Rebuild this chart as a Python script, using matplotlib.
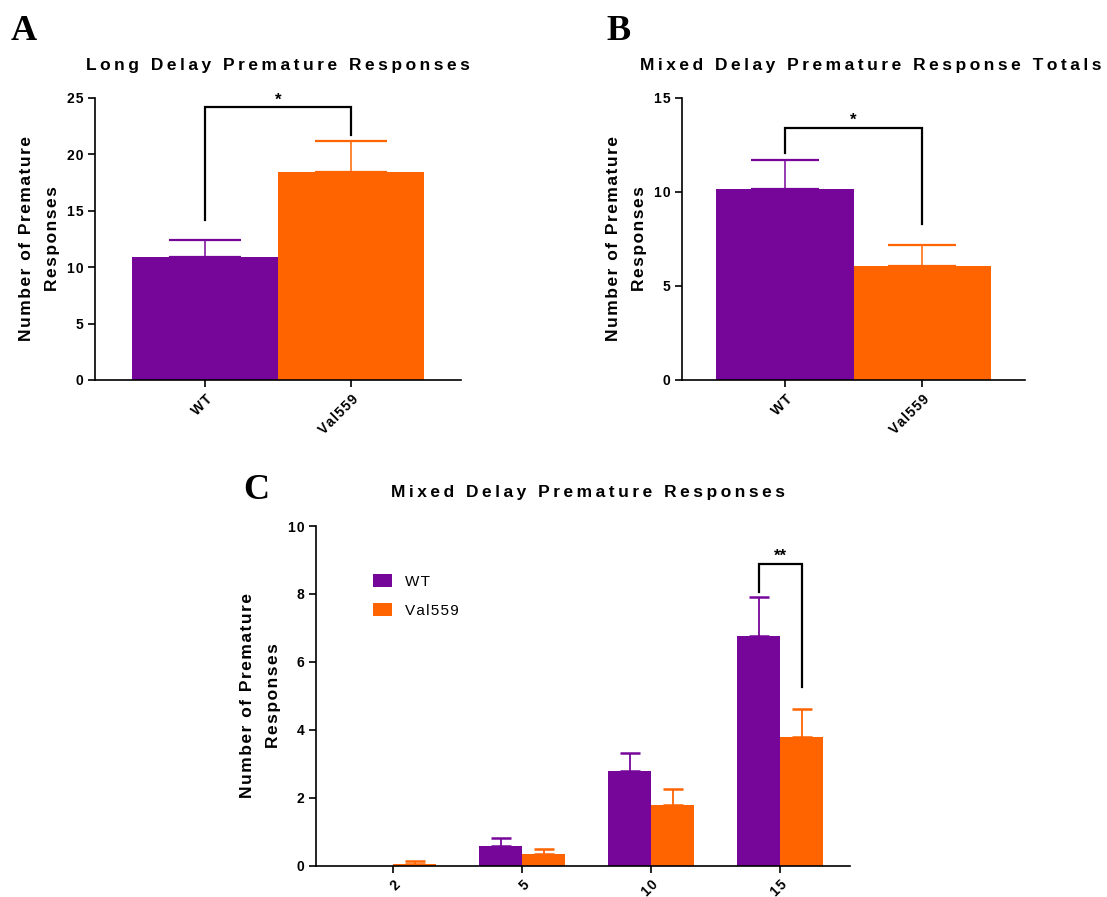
import matplotlib
matplotlib.use("Agg")
import matplotlib.pyplot as plt
import numpy as np

plt.rcParams['font.family'] = ['Liberation Sans', 'DejaVu Sans']

# data
groups = ["WT", "Val559"]
long_mean = [10.92, 18.44]
long_sem = [1.51, 2.72]
total_mean = [10.15, 6.07]
total_sem = [1.56, 1.12]

delays = ["2", "5", "10", "15"]
wt_mean = [0.0, 0.60, 2.78, 6.77]
wt_sem = [0.0, 0.22, 0.55, 1.13]
val_mean = [0.06, 0.36, 1.80, 3.80]
val_sem = [0.09, 0.14, 0.46, 0.82]

purple = "#76069a"
orange = "#ff6400"
colors = [purple, orange]


def spaced(s, sep="\u200a"):
    # widen the letter spacing
    return sep.join(s)


def wide(s):
    return spaced(s, "\u2009")


def style_axis(ax):
    for side in ("top", "right"):
        ax.spines[side].set_visible(False)
    for side in ("left", "bottom"):
        ax.spines[side].set_linewidth(1.2)
    ax.tick_params(axis="both", direction="out", length=5, width=1.2, labelsize=10)


def ylabel(ax):
    ax.set_ylabel(spaced("Number of Premature") + "\n" + spaced("Responses"),
                  fontsize=12.5, fontweight="bold", labelpad=5, linespacing=1.9)


def bracket(ax, x0, x1, y0, y1, top, text):
    ax.plot([x0, x0, x1, x1], [y0, top, top, y1], color="black", lw=1.6,
            solid_joinstyle="miter", clip_on=False)
    ax.text((x0 + x1) / 2, top, text, ha="center", va="bottom",
            fontsize=12, fontweight="bold")


def two_bar_panel(ax, means, sems, ymax, step, title, cap, title_x):
    x = np.arange(len(groups))
    ax.bar(x, means, width=1.0, color=colors)
    for xi, m, s, c in zip(x, means, sems, colors):
        ax.errorbar(xi, m, yerr=[[0], [s]], color=c, lw=1.1,
                    capsize=cap, capthick=1.6)
    ax.set_xlim(-0.75, 1.75)
    ax.set_ylim(0, ymax)
    ticks = np.arange(0, ymax + 0.1, step)
    ax.set_yticks(ticks)
    ax.set_yticklabels([spaced(str(int(v))) for v in ticks], fontweight="bold")
    ax.set_xticks(x)
    ax.set_xticklabels([spaced(g) for g in groups], rotation=45, ha="right",
                       rotation_mode="anchor", fontweight="bold")
    ylabel(ax)
    ax.set_title(wide(title), fontsize=12.5, fontweight="bold", pad=20, x=title_x)
    style_axis(ax)


fig = plt.figure(figsize=(11.07, 8.97), dpi=100)

axA = fig.add_axes([0.0858, 0.5764, 0.3306, 0.3144])
two_bar_panel(axA, long_mean, long_sem, 25, 5, "Long Delay Premature Responses", 26, 0.5)
bracket(axA, 0, 1, 14.15, 21.76, 24.16, "*")

axB = fig.add_axes([0.6161, 0.5764, 0.3099, 0.3144])
two_bar_panel(axB, total_mean, total_sem, 15, 5, "Mixed Delay Premature Response Totals",
              24.5, 0.55)
bracket(axB, 0, 1, 12.07, 8.3, 13.4, "*")

axC = fig.add_axes([0.2855, 0.0346, 0.4824, 0.379])
xc = np.arange(len(delays))
w = 0.333
axC.bar(xc - w / 2, wt_mean, width=w, color=purple, label=spaced("WT"))
axC.bar(xc + w / 2, val_mean, width=w, color=orange, label=spaced("Val559"))
for xi, m, s in zip(xc - w / 2, wt_mean, wt_sem):
    if m > 0:
        axC.errorbar(xi, m, yerr=[[0], [s]], color=purple, lw=1.3, capsize=7, capthick=1.8)
for xi, m, s in zip(xc + w / 2, val_mean, val_sem):
    axC.errorbar(xi, m, yerr=[[0], [s]], color=orange, lw=1.3, capsize=7, capthick=1.8)
axC.set_xlim(-0.6, 3.54)
axC.set_ylim(0, 10)
axC.set_yticks(np.arange(0, 11, 2))
axC.set_yticklabels([spaced(str(v)) for v in range(0, 11, 2)], fontweight="bold")
axC.set_xticks(xc)
axC.set_xticklabels([spaced(d) for d in delays], rotation=45, ha="right",
                    rotation_mode="anchor", fontweight="bold")
ylabel(axC)
axC.set_title(wide("Mixed Delay Premature Responses"), fontsize=12.5,
              fontweight="bold", pad=21, x=0.51)
style_axis(axC)
bracket(axC, 3 - w / 2, 3 + w / 2, 8.07, 5.25, 8.88, "**")
axC.legend(loc="upper left", bbox_to_anchor=(0.08, 0.9), frameon=False,
           handlelength=1.3, handleheight=1.0, fontsize=11, labelspacing=0.9)

# panel letters
for letter, (px, py) in zip("ABC", [(0.010, 0.946), (0.548, 0.946), (0.220, 0.435)]):
    fig.text(px, py, letter, family="Liberation Serif", fontweight="bold",
             fontsize=26, ha="left", va="bottom")

fig.savefig("out.png", dpi=100)
